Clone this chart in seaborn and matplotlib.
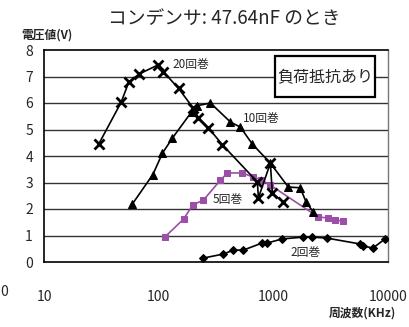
import matplotlib
matplotlib.use("Agg")
import matplotlib.pyplot as plt
from matplotlib.patches import Rectangle
import seaborn as sns

# 20回巻
f20 = [30, 47, 55, 68, 98, 110, 149, 201, 222, 272, 360, 726, 741, 942, 980, 1222]
v20 = [4.45, 6.02, 6.8, 7.1, 7.43, 7.18, 6.55, 5.8, 5.45, 5.06, 4.42, 3.02, 2.42, 3.73, 2.6, 2.26]
# 10回巻
f10 = [59, 89, 108, 132, 194, 218, 283, 423, 516, 656, 942, 1350, 1717, 1936, 2228]
v10 = [2.19, 3.3, 4.11, 4.68, 5.67, 5.9, 6.0, 5.28, 5.09, 4.45, 3.73, 2.83, 2.8, 2.25, 1.89]
# 5回巻
f5 = [113, 165, 198, 246, 346, 398, 537, 670, 787, 942, 2462, 3008, 3460, 4061]
v5 = [0.94, 1.62, 2.15, 2.34, 3.09, 3.36, 3.36, 3.2, 3.1, 2.9, 1.7, 1.66, 1.58, 1.55]
# 2回巻
f2 = [246, 367, 449, 548, 802, 887, 1197, 1823, 2183, 2950, 5715, 6067, 7408, 9420]
v2 = [0.15, 0.3, 0.45, 0.45, 0.72, 0.72, 0.87, 0.94, 0.94, 0.9, 0.68, 0.6, 0.53, 0.87]

xticks = [10, 100, 1000, 10000]
xticklabels = ["10", "100", "1000", "10000"]
yticks = list(range(0, 9))

sns.set_theme(style="white")
plt.rcParams["font.family"] = ["Liberation Sans Narrow", "Noto Sans CJK JP", "DejaVu Sans"]

W, H = 409, 327
fig = plt.figure(figsize=(W / 100, H / 100), dpi=100)
ax = fig.add_axes([44 / W, 1 - 262 / H, (388 - 44) / W, (262 - 50) / H])

ax.set_xscale("log")
ax.set_xlim(10, 10000)
ax.set_ylim(0, 8)

for y in yticks[1:-1]:
    ax.axhline(y, color="#333333", lw=1.0, zorder=1)

purple = "#9b4fa6"
common = dict(ax=ax, sort=False, estimator=None, zorder=3)
sns.lineplot(x=f2, y=v2, color="black", lw=1.2, marker="D", markersize=4,
             markeredgecolor="black", markerfacecolor="black", **common)
sns.lineplot(x=f5, y=v5, color=purple, lw=1.2, marker="s", markersize=5,
             markeredgecolor=purple, markerfacecolor=purple, **common)
sns.lineplot(x=f10, y=v10, color="black", lw=1.2, marker="^", markersize=5.5,
             markeredgecolor="black", markerfacecolor="black", **common)
sns.lineplot(x=f20, y=v20, color="black", lw=1.2, marker="x", markersize=7.5,
             markeredgewidth=2.0, markeredgecolor="black", **common)

jp = ["Noto Sans CJK JP", "DejaVu Sans"]
ax.text(132, 7.47, "20回巻", fontsize=8.5, family=jp, ha="left", va="center", zorder=4)
ax.text(548, 5.43, "10回巻", fontsize=8.5, family=jp, ha="left", va="center", zorder=4)
ax.text(295, 2.34, "5回巻", fontsize=8.5, family=jp, ha="left", va="center", zorder=4)
ax.text(1406, 0.34, "2回巻", fontsize=8.5, family=jp, ha="left", va="center", zorder=4)

# framed note in the upper right of the plot area
bx0, bx1, by0, by1 = 275, 375, 56, 97
box = Rectangle((bx0 / W, 1 - by1 / H), (bx1 - bx0) / W, (by1 - by0) / H,
                transform=fig.transFigure, facecolor="white", edgecolor="black",
                lw=1.6, zorder=5)
ax.add_patch(box)
box.set_clip_on(False)
fig.text((bx0 + bx1) / 2 / W, 1 - (by0 + by1) / 2 / H, "負荷抵抗あり", fontsize=11.5,
         family=jp, ha="center", va="center", zorder=6)

ax.set_xticks(xticks)
ax.set_xticklabels(xticklabels)
ax.minorticks_off()
ax.set_yticks(yticks)
ax.tick_params(axis="x", which="major", direction="in", length=4, width=0.8,
               color="#888888", pad=20, labelsize=10)
ax.tick_params(axis="y", which="major", length=0, pad=8, labelsize=10)

for side in ["left", "bottom", "top"]:
    ax.spines[side].set_color("black")
    ax.spines[side].set_linewidth(1.2)
ax.spines["right"].set_color("#777777")
ax.spines["right"].set_linewidth(1.0)

fig.text(224 / W, 1 - 18 / H, "コンデンサ: 47.64nF のとき", fontsize=13.5, family=jp,
         ha="center", va="center")
fig.text(47 / W, 1 - 35 / H, "電圧値(V)", fontsize=8.5, family=jp, fontweight="bold",
         ha="center", va="center")
fig.text(362 / W, 1 - 313 / H, "周波数(KHz)", fontsize=8.5, family=jp, fontweight="bold",
         ha="center", va="center")
fig.text(0.5 / W, 1 - 292 / H, "0", fontsize=10, ha="left", va="center")

fig.savefig("out.png", dpi=100, facecolor="white")
